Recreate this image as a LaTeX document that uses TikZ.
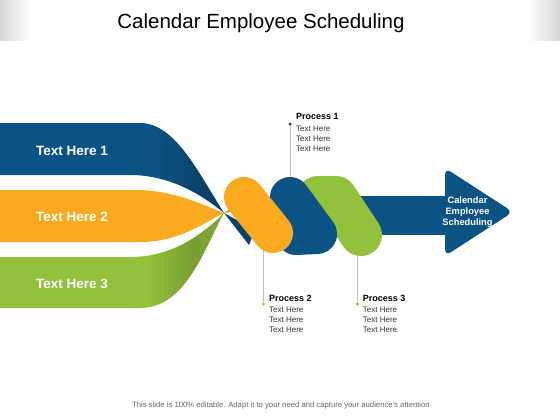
\documentclass[tikz,border=0pt]{standalone}
\usepackage{fontspec}
\setmainfont{Liberation Sans}
\usepackage{xcolor}
\usetikzlibrary{calc}
\usetikzlibrary{positioning}

\definecolor{ribblue}{RGB}{11,83,133}
\definecolor{riborange}{RGB}{250,170,30}
\definecolor{ribgreen}{RGB}{146,193,60}

% 色带尖端变暗 (25bp 到 75bp 对应路径宽度)
\pgfdeclarehorizontalshading{bluetip}{100bp}{color(0bp)=(ribblue); color(58bp)=(ribblue); color(75bp)=(ribblue!72!black); color(100bp)=(ribblue!72!black)}
\pgfdeclarehorizontalshading{greentip}{100bp}{color(0bp)=(ribgreen); color(58bp)=(ribgreen); color(68bp)=(ribgreen!82!black); color(75bp)=(ribgreen!88!black); color(100bp)=(ribgreen!88!black)}

\begin{document}
\begin{tikzpicture}[x=1pt, y=-1pt]
        % ================= 样式定义 =================
        \tikzset{
            % 左侧色带文字
            bandtext/.style={font=\fontsize{13.5}{15}\selectfont\bfseries, text=white, anchor=west, inner sep=0pt},
            % 过程标题与说明
            ptitle/.style={font=\fontsize{9}{10}\selectfont\bfseries, anchor=base west, inner sep=0pt},
            pbody/.style={font=\fontsize{8}{10}\selectfont, text=black!80, inner sep=0pt, align=left},
            % 引线与端点
            callout/.style={draw=black!25, line width=0.8pt},
            pdot/.style={circle, inner sep=0pt, minimum size=3.5pt},
            % 扭带 (圆头粗线)
            twist/.style={line cap=round, line join=round, line width=40pt}
        }

        % ================= 0. 页面与页眉 =================
        \useasboundingbox (0,0) rectangle (560,420);
        \fill[white] (0,0) rectangle (560,420);
        \shade[left color=black!16, right color=white] (0,0) rectangle (30,41);
        \shade[left color=white, right color=black!16] (527,0) rectangle (560,41);
        \node[font=\fontsize{20.5}{24}\selectfont, anchor=base] (title) at (261,28.5) {Calendar Employee Scheduling};

        % ================= 1. 左侧三条色带 =================
        % 汇合点
        \coordinate (tip) at (224,213);
        \shade[shading=bluetip] (0,123) -- (140,123) .. controls (175,123) and (198,172) .. (tip)
                       .. controls (200,193) and (168,175) .. (130,175) -- (0,175) -- cycle;
        \fill[riborange] (0,190) -- (135,190) .. controls (175,190) and (205,206) .. (tip)
                         .. controls (205,222) and (180,242) .. (140,242) -- (0,242) -- cycle;
        \shade[shading=greentip] (0,257) -- (130,257) .. controls (170,257) and (200,237) .. (tip)
                        .. controls (203,252) and (185,308) .. (140,308) -- (0,308) -- cycle;

        % 细条:色带穿过汇合点
        \fill[ribblue!80!black] (tip) -- (255,230) -- (249,245) -- cycle;
        \fill[ribgreen!85!black] (tip) -- (241,203) -- (241,210) -- cycle;

        % ================= 2. 箭头 =================
        \fill[ribblue] (330,196) rectangle (450,235);
        \fill[ribblue, rounded corners=7] (445,168) -- (513,212) -- (445,256) -- cycle;
        \node[font=\fontsize{9.3}{11}\selectfont\bfseries, text=white, align=center] (goal) at (467.5,211.7) {Calendar\\Employee\\Scheduling};

        % ================= 3. 引线 (画在扭带下面) =================
        \coordinate (p1end) at (290,190);
        \coordinate (p2end) at (263.3,245);
        \coordinate (p3end) at (357.3,245);
        \node[pdot, fill=ribblue] (p1dot) at (290,124) {};
        \node[pdot, fill=riborange] (p2dot) at (263.3,304) {};
        \node[pdot, fill=ribgreen] (p3dot) at (357.3,304) {};
        \foreach \i in {1,2,3} \draw[callout] (p\i dot) -- (p\i end);

        % ================= 4. 扭带 =================
        \draw[twist, ribgreen, line width=42pt] (318,197) -- (336,197) -- (361,235);
        \draw[twist, ribblue] (290,197) -- (317,234) -- (296,235);
        \draw[twist, riborange] (244,197) -- (273,233);

        % ================= 5. 文字 =================
        \node[bandtext] (band1) at (36,151) {Text Here 1};
        \node[bandtext] (band2) at (36,216.7) {Text Here 2};
        \node[bandtext] (band3) at (36,284) {Text Here 3};

        \node[ptitle] (p1title) at (296,120) {Process 1};
        \node[ptitle] (p2title) at (269,301) {Process 2};
        \node[ptitle] (p3title) at (362.7,301) {Process 3};
        \foreach \i in {1,2,3}
            \node[pbody, below=5.3pt of p\i title.base west, anchor=north west] (p\i body) {Text Here\\Text Here\\Text Here};

        \node[font=\fontsize{7.7}{9}\selectfont, text=black!60, anchor=base] (note) at (281,407)
            {This slide is 100\% editable. Adapt it to your need and capture your audience's attention};

\end{tikzpicture}
\end{document}
